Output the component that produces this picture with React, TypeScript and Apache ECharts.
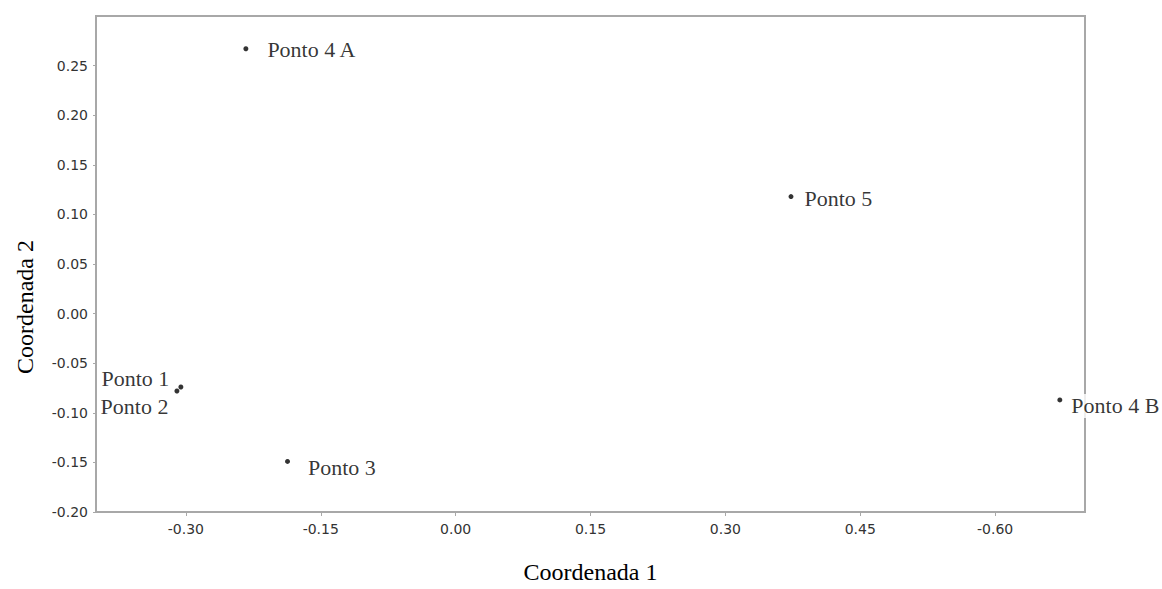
import React, { useEffect, useRef } from "react";
import * as echarts from "echarts";

const pointNames = ["Ponto 1", "Ponto 2", "Ponto 3", "Ponto 4 A", "Ponto 4 B", "Ponto 5"];
const coord1 = [-0.3056, -0.31, -0.187, -0.2333, 0.672, 0.373];
const coord2 = [-0.074, -0.078, -0.149, 0.267, -0.087, 0.118];

const xTickValues = [-0.3, -0.15, 0, 0.15, 0.3, 0.45, 0.6];
const xTickLabels = ["-0.30", "-0.15", "0.00", "0.15", "0.30", "0.45", "-0.60"];
const yTickValues = [-0.2, -0.15, -0.1, -0.05, 0, 0.05, 0.1, 0.15, 0.2, 0.25];
const yTickLabels = ["-0.20", "-0.15", "-0.10", "-0.05", "0.00", "0.05", "0.10", "0.15", "0.20", "0.25"];

const xTitle = "Coordenada 1";
const yTitle = "Coordenada 2";

// label placement per point (layout only)
const labelLayout: Record<string, { position: string; distance: number; offset: number[] }> = {
  "Ponto 1": { position: "left", distance: 7, offset: [0, -9] },
  "Ponto 2": { position: "left", distance: 4, offset: [0, 16] },
  "Ponto 3": { position: "right", distance: 16, offset: [0, 6] },
  "Ponto 4 A": { position: "right", distance: 17, offset: [0, 1] },
  "Ponto 4 B": { position: "right", distance: 7, offset: [0, 6] },
  "Ponto 5": { position: "right", distance: 9, offset: [0, 2] },
};

const pickLabel = (values: number[], labels: string[]) => (v: number) => {
  const i = values.findIndex((t) => Math.abs(t - v) < 1e-6);
  return i >= 0 ? labels[i] : "";
};

export default function App() {
  const ref = useRef<HTMLDivElement>(null);
  useEffect(() => {
    if (!ref.current) return;
    const chart = echarts.init(ref.current, null, { renderer: "svg" });
    const axisGray = "#a8a8a8";
    const tickFont = { fontFamily: "DejaVu Sans", fontSize: 14, color: "#333333" };
    const serif = "Liberation Serif";
    const data = pointNames.map((name, i) => {
      const l = labelLayout[name];
      return {
        name,
        value: [coord1[i], coord2[i]],
        label: { position: l.position, distance: l.distance, offset: l.offset },
      };
    });
    chart.setOption({
      animation: false,
      backgroundColor: "#ffffff",
      grid: {
        left: 96,
        right: 77,
        top: 16,
        bottom: 69,
        show: true,
        borderColor: axisGray,
        borderWidth: 2,
        backgroundColor: "transparent",
      },
      xAxis: {
        type: "value",
        min: -0.4,
        max: 0.7,
        name: xTitle,
        nameLocation: "middle",
        nameGap: 48,
        nameTextStyle: { fontFamily: serif, fontSize: 24, color: "#000" },
        axisLine: { show: true, onZero: false, lineStyle: { color: axisGray, width: 2 } },
        axisTick: { show: true, length: 4, customValues: xTickValues, lineStyle: { color: axisGray } },
        axisLabel: {
          ...tickFont,
          margin: 10,
          customValues: xTickValues,
          formatter: pickLabel(xTickValues, xTickLabels),
        },
        splitLine: { show: false },
      },
      yAxis: {
        type: "value",
        min: -0.2,
        max: 0.3,
        axisLine: { show: true, onZero: false, lineStyle: { color: axisGray, width: 2 } },
        axisTick: { show: true, length: 3, customValues: yTickValues, lineStyle: { color: axisGray } },
        axisLabel: {
          ...tickFont,
          margin: 8,
          customValues: yTickValues,
          formatter: pickLabel(yTickValues, yTickLabels),
        },
        splitLine: { show: false },
      },
      graphic: [
        {
          type: "text",
          x: 25,
          y: 307,
          rotation: Math.PI / 2,
          style: {
            text: yTitle,
            fontFamily: serif,
            fontSize: 24,
            fill: "#000",
            textAlign: "center",
            textVerticalAlign: "middle",
          },
        },
      ],
      series: [
        {
          type: "scatter",
          symbol: "circle",
          symbolSize: 5,
          itemStyle: { color: "#000" },
          data,
          label: {
            show: true,
            formatter: "{b}",
            fontFamily: serif,
            fontSize: 22,
            color: "#000",
            backgroundColor: "#ffffff",
            padding: [1, 2],
          },
        },
      ],
    });
    return () => chart.dispose();
  }, []);
  return (
    <div
      ref={ref}
      style={{ position: "fixed", left: 0, top: 0, width: 1162, height: 589, background: "#fff" }}
    />
  );
}
